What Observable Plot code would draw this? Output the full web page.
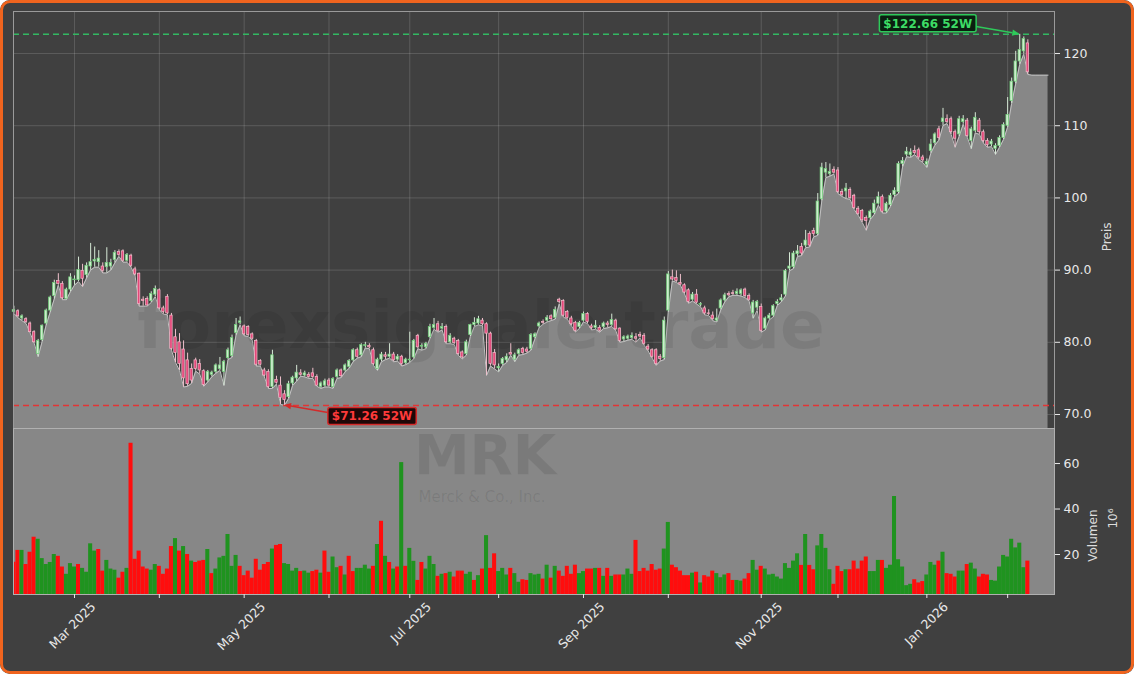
<!DOCTYPE html>
<html><head><meta charset="utf-8">
<script src="https://cdn.jsdelivr.net/npm/d3@7"></script>
<script src="https://cdn.jsdelivr.net/npm/@observablehq/plot@0.6"></script>
<style>
html,body{margin:0;padding:0;background:#ffffff;}
#wrap{position:relative;width:1134px;height:674px;background:#404040;border-radius:10px;overflow:hidden;font-family:"DejaVu Sans",sans-serif;}
#wrap svg{position:absolute;left:0;top:0;max-width:none;}
#border{position:absolute;left:0;top:0;width:1134px;height:674px;box-sizing:border-box;border:3px solid #f0641e;border-radius:10px;pointer-events:none;z-index:5;}
</style></head><body>
<div id="wrap"><div id="border"></div></div>
<script>
// ---------- data ----------
const startDate = "2025-02-07", endDate = "2026-02-09";
const holidays = ["2025-02-17","2025-04-18","2025-05-26","2025-06-19","2025-07-04","2025-09-01","2025-11-27","2025-12-25","2026-01-01","2026-01-19"];

const open = [
84.2,84.3,83.3,83.2,82.6,81.4,78.4,80.3,82.6,84.4,
86.4,88.5,88.1,86.0,87.3,88.6,88.6,89.9,89.3,90.5,
91.2,91.1,90.5,90.4,90.5,91.4,92.5,92.6,91.3,92.0,
90.1,89.5,85.9,86.0,85.7,86.6,87.2,84.7,86.3,83.7,
80.7,80.0,79.0,77.5,76.3,77.5,77.0,76.0,74.7,75.5,
75.9,76.3,75.9,77.8,78.1,81.3,82.7,82.2,82.1,81.1,
80.2,77.4,76.1,75.9,73.8,74.8,74.0,72.8,72.4,74.3,
75.0,75.7,75.4,75.5,75.7,75.2,73.8,74.0,74.7,73.8,
75.2,76.1,76.1,76.6,77.5,78.9,78.2,79.5,79.5,78.9,
76.3,77.6,78.2,78.0,78.3,77.6,78.0,77.1,77.5,77.9,
80.9,79.4,79.3,80.7,82.0,82.5,81.9,82.1,80.0,80.5,
80.2,78.6,78.4,81.0,82.4,82.6,83.0,82.5,81.2,78.5,
76.4,77.0,77.5,78.5,77.6,78.4,79.1,79.0,79.1,80.7,
82.2,82.8,83.0,83.6,83.4,85.9,85.7,84.2,83.3,82.7,
82.1,83.0,83.9,82.2,82.0,82.0,82.1,82.6,82.4,83.0,
81.9,80.4,80.5,80.6,80.7,81.0,80.9,79.4,78.9,78.9,
78.0,77.8,84.4,89.0,88.9,88.2,87.9,87.2,85.9,86.6,
85.2,84.7,84.0,83.7,83.0,84.7,85.8,86.7,86.8,86.7,
86.7,87.3,86.4,84.0,84.8,84.9,81.9,83.3,83.7,85.3,
85.8,86.6,90.2,90.4,92.2,93.2,93.4,95.0,95.4,95.0,
99.8,103.5,103.3,103.9,103.8,100.8,100.9,101.1,100.3,98.5,
98.2,97.2,97.2,97.9,99.2,100.1,98.1,99.0,100.4,100.8,
104.7,106.0,105.9,106.5,106.6,105.6,104.6,106.5,107.6,109.5,
110.5,110.9,110.9,109.1,108.8,110.5,110.7,107.9,109.3,110.7,
109.1,107.9,107.4,106.8,107.2,108.3,110.0,113.4,116.1,118.9,
120.3,121.4];

const high = [
85.0,84.5,83.8,83.4,82.8,81.6,80.4,82.4,84.6,86.4,
88.6,89.5,88.4,87.5,89.5,89.2,91.8,90.8,91.0,93.7,
93.2,92.7,91.0,93.1,91.5,92.7,92.8,92.8,92.3,92.2,
90.4,89.6,86.3,86.3,87.0,87.8,87.4,85.0,86.6,84.0,
81.8,81.2,80.2,78.5,77.0,77.8,77.6,76.2,76.1,76.0,
77.0,77.9,77.5,79.2,81.0,83.3,83.5,82.4,82.3,81.3,
80.4,77.6,76.4,76.2,78.9,75.3,75.2,73.3,74.6,75.3,
76.8,76.2,76.0,75.8,76.4,75.5,74.5,74.9,75.0,75.1,
76.3,76.3,77.0,77.6,79.1,79.2,79.8,80.0,79.8,79.2,
77.8,78.6,78.6,79.8,78.6,78.3,78.2,77.8,81.4,80.4,
81.1,79.8,80.0,82.5,83.3,82.9,82.6,82.4,81.2,80.7,
80.4,78.8,80.3,82.5,83.4,83.6,83.3,82.7,81.4,79.0,
77.0,77.9,78.4,79.8,78.5,79.1,79.3,79.3,81.2,81.3,
82.8,83.1,83.7,83.8,84.9,86.1,85.9,84.4,83.6,82.9,
82.9,84.2,84.1,82.5,83.0,82.3,82.8,82.9,83.9,83.2,
82.0,80.9,81.0,81.3,81.2,81.4,81.2,79.7,79.1,79.1,
78.3,83.5,89.8,90.0,89.9,89.4,88.1,87.4,86.9,87.3,
85.5,85.0,84.5,84.2,84.6,86.0,86.8,87.0,87.2,87.4,
87.4,87.5,86.7,85.8,85.8,85.3,83.5,84.0,85.2,85.9,
86.6,90.1,92.4,92.6,93.4,93.7,95.5,95.3,95.8,100.6,
104.8,104.9,104.7,104.3,104.2,101.2,102.0,101.4,100.5,98.8,
98.4,97.5,98.3,99.7,100.8,100.4,99.4,100.6,101.4,105.0,
105.6,107.0,106.8,107.2,106.9,105.9,105.4,108.1,109.0,109.9,
112.4,111.5,111.2,109.4,111.3,111.4,111.0,109.8,111.8,111.0,
109.4,108.2,108.1,107.5,108.6,110.4,113.9,116.6,120.3,122.66,
122.3,121.9];

const low = [
84.0,83.4,83.0,82.6,81.3,79.9,78.0,80.1,82.4,84.2,
86.0,87.9,85.9,85.9,87.0,87.9,88.4,87.7,88.9,90.0,
90.4,90.4,89.6,89.6,90.0,91.0,91.9,91.1,91.1,90.4,
89.2,85.0,85.0,85.0,85.5,86.3,84.5,83.9,83.8,78.9,
77.2,76.1,73.8,73.9,74.3,76.0,75.6,73.9,74.5,75.2,
75.7,76.1,74.0,77.6,77.9,81.0,82.4,80.9,80.8,80.3,
76.7,76.7,75.2,73.6,73.6,74.2,71.4,71.26,72.2,74.0,
74.6,75.3,75.2,75.0,75.0,73.9,73.6,73.8,73.8,73.6,
75.0,75.1,75.9,76.4,77.3,77.8,78.0,79.2,79.1,76.8,
76.1,77.3,77.6,77.8,77.3,77.4,76.7,76.9,77.2,77.7,
79.1,78.9,79.1,80.5,81.8,81.4,81.7,79.8,79.8,79.7,
78.2,77.7,78.2,80.8,82.2,82.4,82.3,75.4,76.7,76.3,
75.9,76.8,77.2,78.2,77.3,78.2,78.3,78.5,78.9,80.5,
82.0,82.5,82.8,83.0,83.2,85.3,83.5,83.2,82.3,81.4,
81.9,82.8,82.6,81.7,81.8,81.4,81.9,82.0,82.2,81.6,
80.0,80.1,80.3,80.4,80.0,80.6,79.6,78.8,77.8,76.8,
77.4,77.6,84.2,88.5,88.3,87.9,86.7,85.4,85.7,85.3,
84.9,83.8,83.7,83.0,82.8,84.5,85.6,86.3,86.5,86.5,
86.4,86.2,85.7,83.3,84.4,81.4,81.7,83.1,83.5,85.1,
85.6,86.4,89.9,90.2,91.9,92.0,93.1,93.2,94.6,94.8,
99.6,102.8,103.0,103.3,100.6,100.2,99.9,99.8,98.4,97.6,
96.6,95.5,97.0,97.7,99.0,97.9,97.9,98.8,100.2,100.6,
104.3,105.7,105.6,106.0,105.3,104.9,104.2,106.2,107.3,108.0,
110.0,110.3,108.8,107.0,108.5,110.2,108.4,106.8,109.0,108.8,
107.6,107.0,107.1,106.0,107.0,108.1,109.8,113.1,115.8,118.5,
119.9,117.1];

const close = [
84.5,83.6,83.6,82.8,81.4,80.0,80.2,82.3,84.4,86.2,
88.2,88.1,86.1,87.3,89.0,88.7,90.0,88.8,90.6,91.1,
91.4,91.6,89.9,91.0,91.0,92.4,92.1,91.3,92.1,90.6,
89.4,85.3,85.7,85.1,86.7,87.4,84.7,84.2,84.0,79.1,
78.5,77.0,75.0,74.2,74.7,76.3,76.1,74.1,75.9,75.8,
76.8,76.8,77.3,78.9,80.6,82.4,82.9,81.1,81.0,80.5,
76.9,76.9,75.4,73.8,78.2,74.4,72.3,72.0,74.2,75.1,
75.8,75.5,75.7,75.2,75.2,74.0,74.3,74.6,74.0,74.9,
76.1,75.3,76.8,77.4,78.9,78.0,79.6,79.6,79.3,77.0,
77.6,78.3,78.0,78.3,77.5,78.0,77.0,77.6,77.6,80.2,
79.3,79.5,79.8,82.1,82.4,81.6,82.1,80.0,80.9,79.9,
78.4,77.9,80.0,82.4,82.7,83.2,82.5,81.2,77.0,76.8,
76.6,77.7,78.0,78.3,78.2,78.9,78.5,78.7,81.0,81.1,
82.6,82.7,83.4,83.2,84.5,85.6,83.7,83.4,82.5,81.6,
82.7,83.9,82.8,82.0,82.3,81.6,82.6,82.4,83.1,81.8,
80.2,80.7,80.8,80.9,80.5,80.8,79.8,79.0,78.0,77.0,
77.7,83.0,89.4,88.7,88.5,88.0,86.9,85.6,86.6,85.5,
85.3,84.0,83.9,83.2,83.3,85.8,86.5,86.5,86.7,87.0,
87.2,86.4,85.9,85.5,85.6,81.6,83.3,83.7,85.0,85.6,
86.1,89.9,90.5,92.3,92.6,92.3,94.1,93.4,95.0,99.5,
104.2,104.0,103.6,103.5,100.8,100.4,101.3,100.0,98.6,97.8,
96.9,96.8,98.1,99.2,100.1,98.1,99.2,100.3,101.0,104.7,
105.1,106.4,106.3,106.2,105.6,105.2,105.0,107.4,108.8,108.3,
111.0,110.5,109.1,108.2,110.9,110.9,108.6,109.5,111.1,109.1,
107.9,107.3,107.8,107.2,108.3,110.1,111.5,116.1,118.9,120.5,
122.0,117.4];

// volume in millions
const volume = [
16.6,21.8,21.8,15.6,21.0,27.6,26.7,18.2,15.6,16.5,
20.0,19.2,14.5,11.3,16.0,14.5,15.6,13.9,12.2,24.7,
21.5,22.2,12.7,17.4,13.6,13.1,9.6,12.2,13.9,68.9,
17.9,21.5,14.5,13.6,13.1,15.6,14.8,11.3,13.6,23.5,
27.0,21.5,23.5,20.0,17.1,16.5,17.1,17.4,22.2,11.6,
13.6,18.5,19.2,28.8,14.8,19.6,14.8,10.7,12.7,9.6,
17.9,13.1,15.6,16.5,22.4,24.0,24.4,16.0,15.6,12.7,
13.9,12.5,12.7,11.8,12.5,13.1,11.8,21.5,12.2,18.9,
14.2,14.8,11.0,19.2,12.5,13.9,13.9,15.3,13.6,14.8,
24.4,34.6,19.2,16.5,13.6,14.5,60.4,14.8,22.7,17.0,
8.6,16.5,13.6,19.2,15.6,10.4,11.3,11.6,12.2,10.1,
12.7,12.7,11.3,12.2,8.6,10.7,13.6,28.3,13.9,20.3,
12.5,13.9,11.0,13.9,11.6,7.8,8.9,8.6,11.6,11.0,
11.3,9.2,15.3,9.6,14.8,12.7,10.4,14.8,11.3,15.3,
11.6,12.5,13.6,13.6,13.9,13.9,10.4,13.9,10.4,11.0,
11.0,11.0,13.6,11.3,26.2,12.5,13.9,12.7,15.6,13.1,
13.6,22.4,34.1,15.3,14.2,12.7,10.7,10.7,11.8,12.2,
7.5,10.7,10.1,12.7,11.6,9.8,11.0,11.6,8.6,8.6,
8.3,9.2,11.6,17.4,13.1,14.8,13.6,11.0,11.3,10.1,
9.2,16.0,13.9,17.1,20.3,15.2,28.8,15.2,13.3,23.8,
28.8,22.7,13.3,6.9,14.8,12.5,13.3,13.3,17.1,13.6,
17.1,18.9,12.5,12.5,17.4,17.4,13.9,15.3,45.5,17.7,
14.5,6.3,6.9,8.9,7.5,8.1,11.0,16.5,15.3,17.1,
21.0,11.6,11.3,10.1,12.7,12.7,15.6,16.2,13.6,10.1,
11.3,11.0,8.6,8.3,14.5,19.6,18.9,26.7,22.9,25.0,
14.2,17.1];

// u = up (green) volume bar, d = down (red)
const volumeDirection = [
"dduddduuuu","udduuuduuu","udduuuddud","dddduudddd","udududddud",
"uuuuuudddd","ddddudduuu","uduudduddu","ududduuuud","ududududuu",
"dduuududud","dduudududd","uuuduudduu","udududdddd","uuddududud",
"duuudddddd","duudddddud","uddduuuddu","udduuduuuu","uuuuududdu",
"uuuddduddd","dduuuduuuu","uuuddduuud","uddduuduud","dduuuuuuuu","ud"].join("");

// flat tail of the shaded area after the last session
const areaTail = [117.0, 117.0, 117.0, 117.0, 117.0];

const xTickLabels = ["Mar 2025","May 2025","Jul 2025","Sep 2025","Nov 2025","Jan 2026"];
const priceTicks = [70, 80, 90, 100, 110, 120];
const priceTickLabels = ["70.0","80.0","90.0","100","110","120"];
const volumeTicks = [20, 40, 60];
const volumeTickLabels = ["20","40","60"];
const watermark = "forexsignale.trade";
const ticker = "MRK";
const company = "Merck & Co., Inc.";

// ---------- build ----------
const fmtDay = d3.utcFormat("%Y-%m-%d");
const fmtMonth = d3.utcFormat("%b %Y");
const dates = d3.utcDays(new Date(startDate + "T00:00Z"), d3.utcDay.offset(new Date(endDate + "T00:00Z"), 1))
  .filter(d => d.getUTCDay() % 6 !== 0 && !holidays.includes(fmtDay(d)));

const bars = dates.map((d, i) => ({
  i, date: d, o: open[i], h: high[i], l: low[i], c: close[i], v: volume[i],
  up: close[i] >= open[i], vup: volumeDirection[i] === "u"
}));
const areaRows = bars.map(b => ({i: b.i, y: b.l}))
  .concat(areaTail.map((y, k) => ({i: bars.length + k, y})));

const monthStarts = dates.map((d, i) => ({d, i}))
  .filter(({d, i}) => i > 0 && d.getUTCMonth() !== dates[i - 1].getUTCMonth());
const xTicks = monthStarts.map(m => m.i);
const xLabels = monthStarts.filter(m => xTickLabels.includes(fmtMonth(m.d)))
  .map(m => ({i: m.i, label: fmtMonth(m.d)}));

const maxHigh = d3.max(high), minLow = d3.min(low);
const iMax = high.indexOf(maxHigh), iMin = low.indexOf(minLow);

const xDomain = [-0.1, 257.6];
const yDomain = [68.06, 125.82];
const vDomain = [2.42, 75.4];
const font = "DejaVu Sans, sans-serif";
const baseStyle = {background: "transparent", color: "#e8e8e8", fontFamily: font, fontSize: "12.5px", overflow: "visible"};

const wrap = document.getElementById("wrap");

const price = Plot.plot({
  width: 1134, height: 430,
  marginLeft: 13, marginRight: 80, marginTop: 11, marginBottom: 2,
  style: baseStyle,
  x: {type: "linear", domain: xDomain, axis: null},
  y: {domain: yDomain, axis: null},
  marks: [
    Plot.gridX(xTicks, {stroke: "#ffffff", strokeOpacity: 0.15}),
    Plot.gridY(priceTicks, {stroke: "#ffffff", strokeOpacity: 0.15}),
    Plot.areaY(areaRows, {x: "i", y1: yDomain[0], y2: "y", fill: "#878787", curve: "linear"}),
    Plot.lineY(areaRows, {x: "i", y: "y", stroke: "#c2c2c2", strokeWidth: 1}),
    Plot.text([watermark], {frameAnchor: "middle", dx: -53, dy: 107, fontSize: 66, fontWeight: "bold", fontFamily: font, fill: "#000000", fillOpacity: 0.08}),
    Plot.ruleY([maxHigh], {stroke: "#33b862", strokeWidth: 1.5, strokeDasharray: "6,4"}),
    Plot.ruleY([minLow], {stroke: "#e23535", strokeWidth: 1.5, strokeDasharray: "6,4"}),
    Plot.ruleX(bars, {x: "i", y1: "l", y2: "h", stroke: d => d.up ? "#d6e9d6" : "#efc0cc", strokeWidth: 1}),
    Plot.rect(bars, {x1: d => d.i - 0.3, x2: d => d.i + 0.3, y1: "o", y2: "c",
      fill: d => d.up ? "#cdeccd" : "#e4487a", stroke: d => d.up ? "#6fcf78" : "#f3bccb", strokeWidth: 0.7}),
    Plot.frame({stroke: "#9a9a9a"}),
    Plot.axisY(priceTicks, {anchor: "right", tickSize: 5, tickPadding: 4, fontSize: 12.5, label: null,
      tickFormat: d => priceTickLabels[priceTicks.indexOf(d)]}),
    Plot.text(["Preis"], {frameAnchor: "right", dx: 52.5, dy: 2.5, rotate: -90, fontSize: 12, fill: "#dddddd"})
  ]
});
wrap.appendChild(price);

const vol = Plot.plot({
  width: 1134, height: 674,
  marginLeft: 13, marginRight: 80, marginTop: 428, marginBottom: 80,
  style: baseStyle,
  x: {type: "linear", domain: xDomain, axis: null},
  y: {domain: vDomain, axis: null},
  marks: [
    Plot.frame({fill: "#878787"}),
    Plot.text([ticker], {frameAnchor: "middle", dx: -49, dy: -55, fontSize: 56, fontWeight: "bold", fontFamily: font, fill: "#000000", fillOpacity: 0.09}),
    Plot.text([company], {frameAnchor: "middle", dx: -52, dy: -14, fontSize: 15, fontFamily: font, fill: "#000000", fillOpacity: 0.09}),
    Plot.rect(bars, {x1: d => d.i - 0.5, x2: d => d.i + 0.5, y1: 0, y2: "v", fill: d => d.vup ? "#1f931f" : "#ff0d0d", clip: true}),
    Plot.frame({stroke: "#b0b0b0"}),
    Plot.axisY(volumeTicks, {anchor: "right", tickSize: 5, tickPadding: 4, fontSize: 12.5, label: null,
      tickFormat: d => volumeTickLabels[volumeTicks.indexOf(d)]}),
    Plot.axisX(xTicks, {anchor: "bottom", tickSize: 4, tickFormat: () => "", label: null}),
    Plot.text(xLabels, {x: "i", text: "label", frameAnchor: "bottom", rotate: -45, textAnchor: "end",
      dx: 22, dy: 13, fontSize: 12.5, fill: "#e8e8e8"}),
    Plot.text(["Volumen"], {frameAnchor: "right", dx: 39, dy: -2, rotate: -90, fontSize: 12, fill: "#dddddd"}),
    Plot.text(["10\u2076"], {frameAnchor: "right", dx: 58.5, dy: -3, rotate: -90, fontSize: 12, fill: "#dddddd"})
  ]
});
wrap.appendChild(vol);

// ---------- 52W annotations ----------
function annotate(plot, idx, val, label, edge, boxFill, textFill, offX, offY) {
  const X = plot.scale("x").apply(idx), Y = plot.scale("y").apply(val);
  const g = d3.select(plot).append("g");
  const rect = g.append("rect");
  const cx = X + offX, cy = Y + offY;
  const t = g.append("text").attr("x", cx).attr("y", cy).attr("dy", "0.35em")
    .attr("text-anchor", "middle").attr("font-family", font).attr("font-weight", "bold")
    .attr("font-size", 12).attr("fill", textFill).text(label);
  const bb = t.node().getBBox();
  const bx = bb.x - 4, bw = bb.width + 8, by = cy - 8.5, bh = 17;
  rect.attr("x", bx).attr("y", by).attr("width", bw).attr("height", bh).attr("rx", 2)
    .attr("fill", boxFill).attr("stroke", edge).attr("stroke-width", 1.5);
  const sx = offX < 0 ? bx + bw : bx;
  const sy = cy + (Y - cy) * 0.3;
  const ang = Math.atan2(Y - sy, X - sx), L = 7, W = 3.2;
  const ex = X - Math.cos(ang) * L, ey = Y - Math.sin(ang) * L;
  g.append("line").attr("x1", sx).attr("y1", sy).attr("x2", ex).attr("y2", ey)
    .attr("stroke", edge).attr("stroke-width", 1.5);
  g.append("path").attr("fill", edge).attr("d",
    `M${X},${Y}L${ex - Math.sin(ang) * W},${ey + Math.cos(ang) * W}L${ex + Math.sin(ang) * W},${ey - Math.cos(ang) * W}Z`);
}
annotate(price, iMax, maxHigh, `$${maxHigh.toFixed(2)} 52W`, "#2ec95a", "#0a1f10", "#3ddc65", -91.5, -10.5);
annotate(price, iMin, minLow, `$${minLow.toFixed(2)} 52W`, "#d42a2a", "#1e0808", "#ff3a3a", 88, 11);
</script>
</body></html>
